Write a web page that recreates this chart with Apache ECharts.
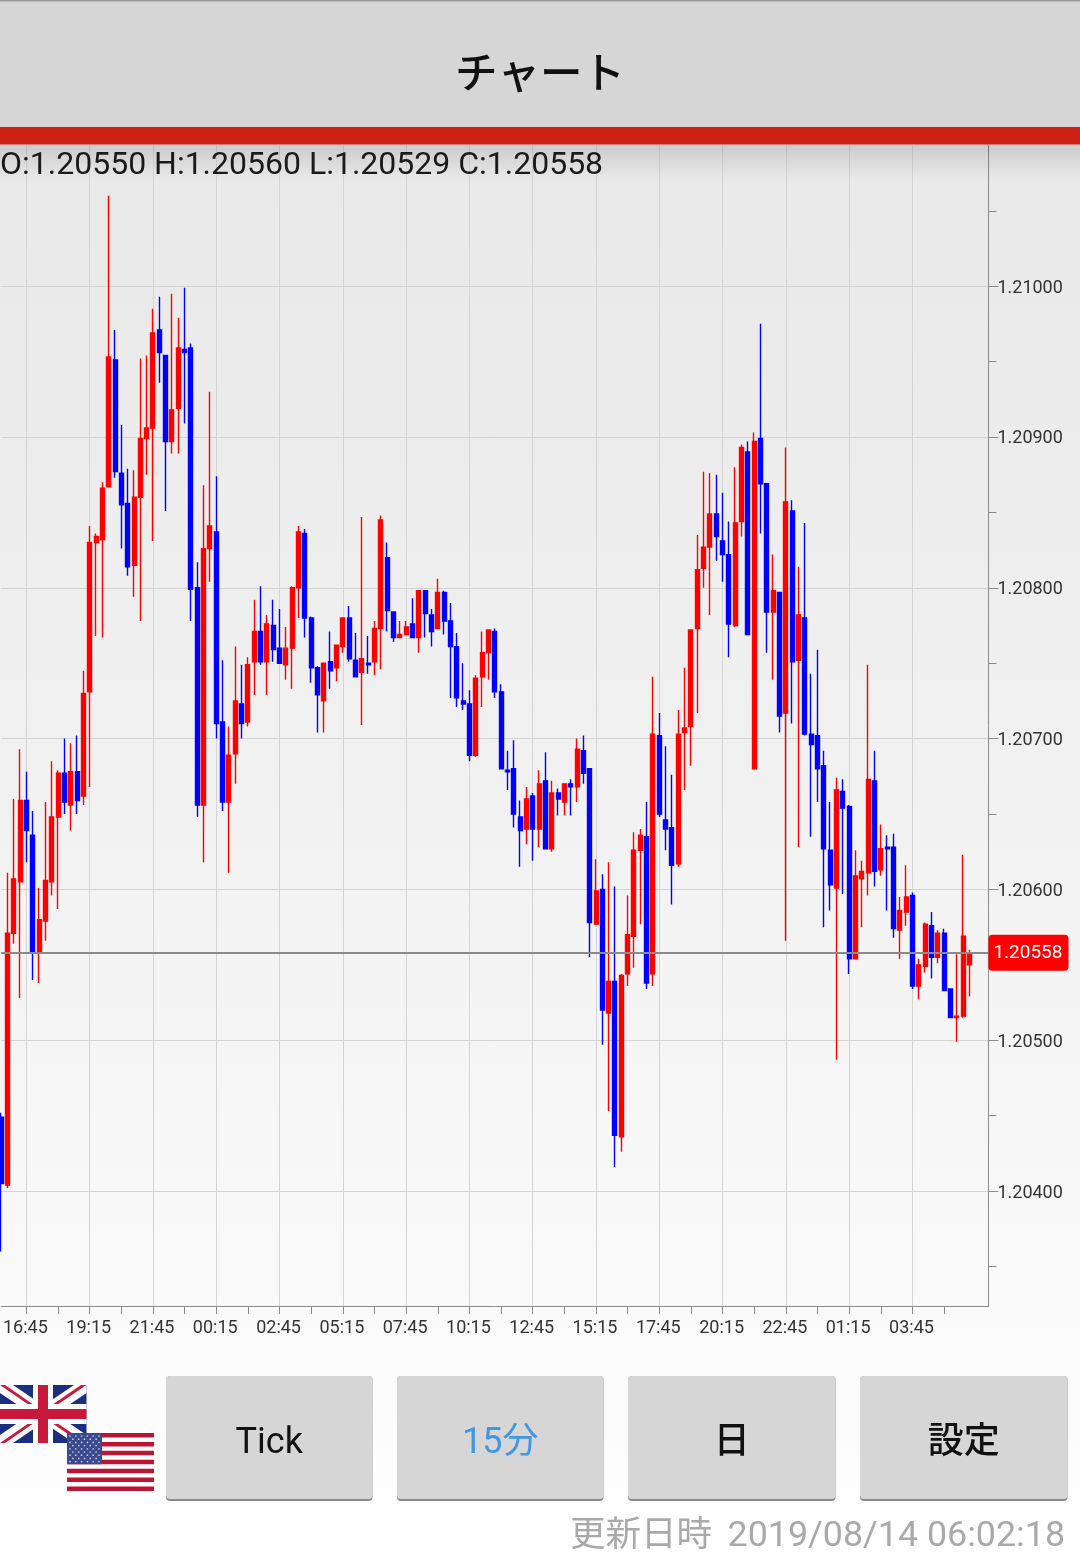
<!DOCTYPE html>
<html>
<head>
<meta charset="utf-8">
<style>html,body{margin:0;padding:0;background:#fff}#c{width:1080px;height:1557px}</style>
<script src="https://cdn.jsdelivr.net/npm/echarts@6/dist/echarts.min.js"></script>
</head>
<body>
<div id="c"></div>
<script>
const tickLabels = ['16:45','19:15','21:45','00:15','02:45','05:15','07:45','10:15','12:45','15:15','17:45','20:15','22:45','01:15','03:45'];
const priceLabels = [1.204,1.205,1.206,1.207,1.208,1.209,1.21];
const priceTicks = [1.2035,1.204,1.2045,1.205,1.2055,1.206,1.2065,1.207,1.2075,1.208,1.2085,1.209,1.2095,1.21,1.2105];
const lastPrice = 1.20558;
const opens = [
1.20449,1.20404,1.20571,1.20605,1.20659,1.20636,1.20559,1.20579,1.20605,1.20648,
1.20677,1.20656,1.20678,1.20662,1.20731,1.20830,1.20832,1.20867,1.20951,1.20876,
1.20856,1.20815,1.20860,1.20899,1.20906,1.20971,1.20954,1.20897,1.20919,1.20958,
1.20959,1.20800,1.20656,1.20826,1.20837,1.20711,1.20658,1.20690,1.20723,1.20711,
1.20751,1.20771,1.20751,1.20775,1.20760,1.20749,1.20760,1.20800,1.20836,1.20780,
1.20747,1.20725,1.20751,1.20747,1.20761,1.20780,1.20752,1.20744,1.20750,1.20751,
1.20773,1.20820,1.20784,1.20767,1.20769,1.20776,1.20767,1.20798,1.20782,1.20773,
1.20797,1.20778,1.20761,1.20725,1.20723,1.20689,1.20741,1.20757,1.20771,1.20731,
1.20679,1.20680,1.20648,1.20640,1.20662,1.20640,1.20672,1.20627,1.20664,1.20658,
1.20670,1.20668,1.20692,1.20680,1.20577,1.20600,1.20518,1.20539,1.20436,1.20544,
1.20569,1.20626,1.20635,1.20544,1.20702,1.20646,1.20641,1.20617,1.20704,1.20708,
1.20773,1.20813,1.20827,1.20849,1.20831,1.20822,1.20775,1.20844,1.20890,1.20680,
1.20899,1.20869,1.20784,1.20797,1.20717,1.20851,1.20752,1.20780,1.20703,1.20702,
1.20682,1.20626,1.20601,1.20665,1.20655,1.20554,1.20607,1.20611,1.20672,1.20613,
1.20628,1.20628,1.20573,1.20585,1.20596,1.20536,1.20549,1.20576,1.20555,1.20571,
1.20534,1.20515,1.20516,1.20550];
const closes = [
1.20405,1.20571,1.20607,1.20659,1.20639,1.20559,1.20580,1.20606,1.20648,1.20677,
1.20658,1.20678,1.20659,1.20730,1.20830,1.20834,1.20866,1.20953,1.20877,1.20855,
1.20814,1.20860,1.20899,1.20906,1.20969,1.20956,1.20897,1.20918,1.20959,1.20956,
1.20799,1.20656,1.20826,1.20841,1.20710,1.20658,1.20689,1.20725,1.20710,1.20749,
1.20771,1.20751,1.20776,1.20759,1.20750,1.20760,1.20800,1.20837,1.20780,1.20747,
1.20729,1.20750,1.20745,1.20762,1.20780,1.20753,1.20741,1.20753,1.20749,1.20773,
1.20845,1.20785,1.20767,1.20769,1.20774,1.20767,1.20798,1.20783,1.20771,1.20797,
1.20778,1.20761,1.20727,1.20723,1.20689,1.20740,1.20757,1.20772,1.20731,1.20680,
1.20678,1.20650,1.20639,1.20660,1.20640,1.20670,1.20627,1.20664,1.20660,1.20670,
1.20668,1.20693,1.20677,1.20578,1.20599,1.20520,1.20539,1.20437,1.20543,1.20570,
1.20626,1.20636,1.20538,1.20703,1.20650,1.20640,1.20616,1.20703,1.20707,1.20772,
1.20812,1.20827,1.20849,1.20834,1.20822,1.20776,1.20843,1.20893,1.20769,1.20897,
1.20869,1.20784,1.20798,1.20715,1.20857,1.20751,1.20782,1.20703,1.20696,1.20680,
1.20627,1.20603,1.20666,1.20654,1.20554,1.20609,1.20612,1.20673,1.20612,1.20627,
1.20627,1.20574,1.20586,1.20595,1.20536,1.20550,1.20577,1.20555,1.20571,1.20533,
1.20515,1.20516,1.20569,1.20558];
const highs = [
1.20452,1.20611,1.20660,1.20693,1.20678,1.20652,1.20601,1.20658,1.20685,1.20679,
1.20700,1.20697,1.20702,1.20745,1.20841,1.20836,1.20870,1.21060,1.20971,1.20908,
1.20879,1.20878,1.20952,1.20954,1.20985,1.20993,1.20954,1.20995,1.20979,1.20999,
1.20962,1.20817,1.20868,1.20930,1.20874,1.20752,1.20708,1.20761,1.20749,1.20754,
1.20792,1.20801,1.20782,1.20792,1.20786,1.20774,1.20801,1.20841,1.20839,1.20781,
1.20748,1.20750,1.20771,1.20762,1.20780,1.20788,1.20770,1.20847,1.20768,1.20778,
1.20848,1.20830,1.20784,1.20778,1.20778,1.20793,1.20798,1.20798,1.20786,1.20806,
1.20798,1.20790,1.20770,1.20750,1.20732,1.20742,1.20771,1.20772,1.20773,1.20736,
1.20692,1.20699,1.20659,1.20668,1.20664,1.20679,1.20691,1.20672,1.20667,1.20670,
1.20673,1.20700,1.20702,1.20680,1.20620,1.20610,1.20618,1.20602,1.20544,1.20596,
1.20638,1.20640,1.20658,1.20741,1.20717,1.20695,1.20676,1.20719,1.20747,1.20772,
1.20835,1.20877,1.20876,1.20875,1.20863,1.20844,1.20880,1.20895,1.20897,1.20903,
1.20975,1.20869,1.20822,1.20797,1.20893,1.20858,1.20814,1.20843,1.20743,1.20759,
1.20692,1.20658,1.20674,1.20673,1.20656,1.20626,1.20619,1.20749,1.20692,1.20643,
1.20636,1.20637,1.20595,1.20616,1.20598,1.20554,1.20578,1.20585,1.20573,1.20574,
1.20534,1.20557,1.20623,1.20560];
const lows = [
1.20360,1.20402,1.20564,1.20528,1.20618,1.20540,1.20538,1.20566,1.20596,1.20587,
1.20650,1.20639,1.20650,1.20656,1.20668,1.20768,1.20767,1.20867,1.20873,1.20826,
1.20808,1.20794,1.20778,1.20875,1.20831,1.20936,1.20851,1.20889,1.20889,1.20909,
1.20778,1.20648,1.20618,1.20804,1.20700,1.20652,1.20611,1.20670,1.20700,1.20708,
1.20729,1.20749,1.20729,1.20751,1.20750,1.20739,1.20733,1.20780,1.20767,1.20737,
1.20704,1.20704,1.20733,1.20738,1.20757,1.20751,1.20741,1.20709,1.20743,1.20742,
1.20746,1.20771,1.20764,1.20767,1.20769,1.20767,1.20757,1.20767,1.20761,1.20773,
1.20769,1.20727,1.20721,1.20719,1.20685,1.20688,1.20721,1.20739,1.20727,1.20680,
1.20666,1.20641,1.20615,1.20630,1.20619,1.20628,1.20627,1.20625,1.20649,1.20649,
1.20649,1.20658,1.20670,1.20555,1.20577,1.20497,1.20453,1.20416,1.20426,1.20536,
1.20548,1.20577,1.20534,1.20536,1.20648,1.20626,1.20590,1.20615,1.20666,1.20682,
1.20717,1.20800,1.20782,1.20818,1.20804,1.20754,1.20774,1.20834,1.20769,1.20680,
1.20836,1.20757,1.20739,1.20704,1.20566,1.20710,1.20628,1.20702,1.20635,1.20658,
1.20575,1.20586,1.20487,1.20597,1.20544,1.20554,1.20575,1.20596,1.20602,1.20609,
1.20586,1.20568,1.20554,1.20576,1.20534,1.20527,1.20545,1.20541,1.20551,1.20533,
1.20515,1.20499,1.20515,1.20529];

const LEAD = 4, STEP = 10, TRAIL = 3;
const total = opens.length + TRAIL;
const categories = Array.from({length: total}, (_, i) => {
  const k = (i - LEAD) / STEP;
  return Number.isInteger(k) && tickLabels[k] ? tickLabels[k] : '';
});
const candles = opens.map((o, i) => [o, closes[i], lows[i], highs[i]]);

const FONT = 'Roboto, "Noto Sans CJK JP", sans-serif';
const UP = '#ff0000', DOWN = '#0000ff';
const Z = 100;

function rect(x, y, w, h, fill, r, z) {
  return {type: 'rect', silent: true, z: z || Z, shape: {x, y, width: w, height: h, r: r || 0}, style: {fill}};
}
function text(x, y, t, size, fill, align, weight) {
  return {type: 'text', silent: true, z: Z + 3, x, y, style: {
    text: t, font: (weight || 'normal') + ' ' + size + 'px ' + FONT, fill,
    align: align || 'center', verticalAlign: 'middle'}};
}
function poly(points, fill, z) {
  return {type: 'polygon', silent: true, z: z || Z, shape: {points}, style: {fill}};
}

const graphics = [];
// header
graphics.push(rect(0, 0, 1080, 127, '#d6d6d6'));
graphics.push(rect(0, 0, 1080, 1.5, '#9a9a9a', 0, Z + 1));
graphics.push(rect(0, 127, 1080, 17.5, '#ce2013', 0, Z + 1));
graphics.push({type: 'rect', silent: true, z: Z - 1, shape: {x: 0, y: 144.5, width: 1080, height: 34},
  style: {fill: {type: 'linear', x: 0, y: 0, x2: 0, y2: 1, colorStops: [{offset: 0, color: 'rgba(0,0,0,0.13)'}, {offset: 1, color: 'rgba(0,0,0,0)'}]}}});
graphics.push(text(540, 77, 'チャート', 42.5, '#111', 'center', '500'));
graphics.push(text(0, 166, 'O:1.20550 H:1.20560 L:1.20529 C:1.20558', 32, '#1a1a1a', 'left'));

// buttons
const buttons = [['Tick', 166, 206.5, '#111', 'normal'], ['15分', 397, 206.5, '#3f97e6', 'normal'], ['日', 628, 207.5, '#111', '500'], ['設定', 860, 207.5, '#111', '500']];
buttons.forEach(([label, x, w, color, weight]) => {
  graphics.push(rect(x, 1376, w, 125, '#8c8c8c', 4));
  graphics.push(rect(x, 1376, w, 123, '#d6d6d6', 4, Z + 1));
  graphics.push(text(x + w / 2, 1444, label, 36, color, 'center', weight));
});
graphics.push(text(712, 1537, '更新日時', 35.5, '#a9a9a9', 'right'));
graphics.push(text(1065, 1537, '2019/08/14 06:02:18', 35.8, '#a9a9a9', 'right'));

// UK flag
const ukBlue = '#1b2f80', flagRed = '#c8183c';
graphics.push(rect(0, 1385, 86.5, 58, ukBlue));
graphics.push(poly([[0,1385],[13,1385],[86.5,1435],[86.5,1443],[74,1443],[0,1393]], '#fff', Z + 1));
graphics.push(poly([[86.5,1385],[74,1385],[0,1435],[0,1443],[13,1443],[86.5,1393]], '#fff', Z + 1));
graphics.push(poly([[0,1385],[5,1385],[34,1405],[29,1405]], flagRed, Z + 2));
graphics.push(poly([[86.5,1385],[81,1385],[52,1405],[57,1405]], flagRed, Z + 2));
graphics.push(poly([[0,1443],[5,1443],[34,1423],[29,1423]], flagRed, Z + 2));
graphics.push(poly([[86.5,1443],[81,1443],[52,1423],[57,1423]], flagRed, Z + 2));
graphics.push(rect(0, 1404, 86.5, 20, '#fff', 0, Z + 2));
graphics.push(rect(33, 1385, 20, 58, '#fff', 0, Z + 2));
graphics.push(rect(0, 1409, 86.5, 10, flagRed, 0, Z + 3));
graphics.push(rect(38, 1385, 10, 58, flagRed, 0, Z + 3));

// US flag
graphics.push(rect(67, 1433, 87, 58, '#fff', 0, Z + 4));
for (let s = 0; s < 7; s++) graphics.push(rect(67, 1433 + s * 8.92, 87, 4.46, '#bb1536', 0, Z + 5));
graphics.push(rect(67, 1433, 35, 31.2, '#3a4a8c', 0, Z + 6));
for (let r = 0; r < 9; r++) for (let c = 0; c < (r % 2 ? 5 : 6); c++) {
  graphics.push({type: 'circle', silent: true, z: Z + 7,
    shape: {cx: 70 + c * 5.8 + (r % 2 ? 2.9 : 0), cy: 1436 + r * 3.2, r: 0.85}, style: {fill: '#c6cce4'}});
}

const option = {
  animation: false,
  backgroundColor: {type: 'linear', x: 0, y: 0, x2: 0, y2: 1, colorStops: [
    {offset: 0, color: '#e6e6e6'}, {offset: 0.5, color: '#f1f1f1'}, {offset: 0.85, color: '#fafafa'}, {offset: 1, color: '#ffffff'}]},
  grid: {left: -1.3, right: 91.6, top: 145, bottom: 251, containLabel: false},
  xAxis: {
    type: 'category', data: categories, boundaryGap: false,
    axisLine: {show: true, onZero: false, lineStyle: {color: '#8a8a8a', width: 1}},
    axisTick: {show: true, length: 8, interval: i => (i - LEAD) % 5 === 0 && i <= opens.length - 5, lineStyle: {color: '#8a8a8a', width: 1}},
    axisLabel: {show: true, interval: i => categories[i] !== '', formatter: v => '{t|' + v + '}',
      rich: {t: {color: '#333', fontSize: 18, fontFamily: FONT, padding: [0, 2, 0, 0]}},
      margin: 13, hideOverlap: false},
    splitLine: {show: true, interval: i => categories[i] !== '', lineStyle: {color: '#d4d4d4', width: 1}}
  },
  yAxis: [{
    type: 'value', position: 'right', min: 1.203238, max: 1.210936, scale: true,
    axisLine: {show: true, lineStyle: {color: '#8a8a8a', width: 1}},
    axisTick: {show: true, length: 8, customValues: priceTicks, lineStyle: {color: '#8a8a8a', width: 1}},
    axisLabel: {show: true, customValues: priceLabels, formatter: v => '{p|' + v.toFixed(5) + '}',
      rich: {p: {color: '#333', fontSize: 18, fontFamily: FONT, padding: [4, 0, 0, 0]}},
      margin: 9, showMinLabel: true, showMaxLabel: true, hideOverlap: false},
    splitLine: {show: false}
  }, {
    type: 'value', position: 'right', min: 1.203238, max: 1.210936, scale: true,
    axisLine: {show: false},
    axisTick: {show: true, length: 10, customValues: priceLabels, lineStyle: {color: '#8a8a8a', width: 1}},
    axisLabel: {show: false},
    splitLine: {show: true, lineStyle: {color: '#d4d4d4', width: 1}}
  }],
  series: [{
    type: 'candlestick', data: candles, barWidth: 4.5, clip: true,
    itemStyle: {color: UP, color0: DOWN, borderColor: UP, borderColor0: DOWN, borderWidth: 1.4},
    markLine: {
      silent: true, symbol: 'none', animation: false, precision: 5,
      lineStyle: {color: '#8a8a8a', width: 2, type: 'solid'},
      data: [{yAxis: lastPrice}],
      label: {show: true, position: 'end', distance: 0, formatter: () => lastPrice.toFixed(5),
        backgroundColor: '#ff0000', color: '#fff', fontSize: 19, fontFamily: FONT, padding: [10, 6, 7, 5], borderRadius: 4}
    }
  }],
  graphic: {elements: graphics}
};
const chart = echarts.init(document.getElementById('c'));
chart.setOption(option);
</script>
</body>
</html>
